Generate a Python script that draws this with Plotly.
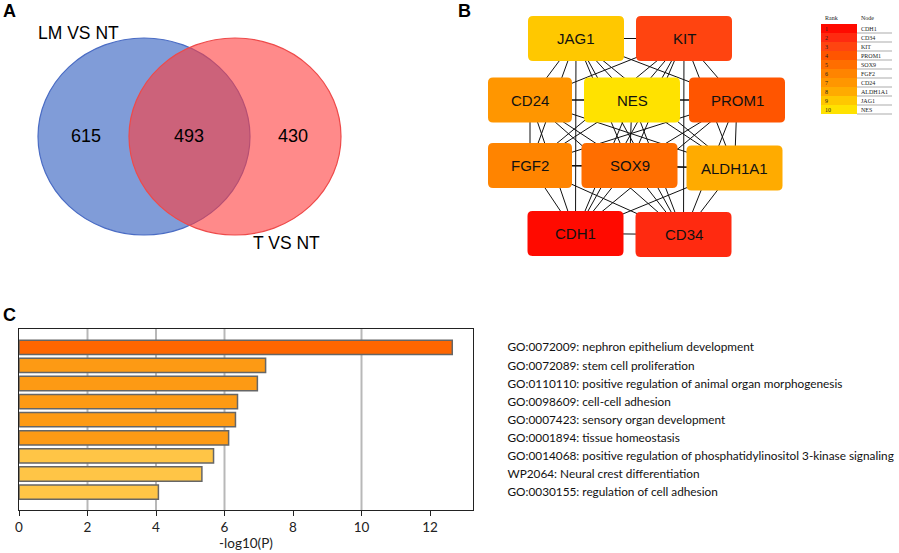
import itertools
import plotly.graph_objects as go

W, H = 899, 553

# ---------------- Panel A: Venn ----------------
venn_sets = ["LM VS NT", "T VS NT"]
venn_counts = [615, 493, 430]  # only LM, shared, only T

# ---------------- Panel B: network ----------------
rank_nodes = ["CDH1", "CD34", "KIT", "PROM1", "SOX9", "FGF2", "CD24", "ALDH1A1", "JAG1", "NES"]
rank_numbers = list(range(1, 11))
rank_colors = ["#ff0a00", "#ff2a10", "#ff4410", "#ff5500", "#ff6e00",
               "#ff8400", "#ff9600", "#ffab00", "#ffc800", "#ffe200"]
table_header = ["Rank", "Node"]

# ---------------- Panel C: enrichment ----------------
terms = [
    "GO:0072009: nephron epithelium development",
    "GO:0072089: stem cell proliferation",
    "GO:0110110: positive regulation of animal organ morphogenesis",
    "GO:0098609: cell-cell adhesion",
    "GO:0007423: sensory organ development",
    "GO:0001894: tissue homeostasis",
    "GO:0014068: positive regulation of phosphatidylinositol 3-kinase signaling",
    "WP2064: Neural crest differentiation",
    "GO:0030155: regulation of cell adhesion",
]
neglogp = [12.65, 7.2, 6.96, 6.38, 6.32, 6.12, 5.68, 5.34, 4.07]
bar_colors = ["#ff6600"] + ["#fd9a14"] * 5 + ["#ffc546"] * 3
grid_lines = [2, 4, 6, 10]
x_ticks = [0, 2, 4, 6, 8, 10, 12]

# layout positions (pixels in the full-figure overlay axis)
node_pos = {
    "JAG1": (576, 38.5), "KIT": (684, 38.5),
    "CD24": (530, 100), "NES": (632, 100), "PROM1": (737, 100),
    "FGF2": (530, 165.5), "SOX9": (629.5, 165.5), "ALDH1A1": (734.5, 168),
    "CDH1": (575.5, 233.5), "CD34": (683.5, 234.5),
}
node_w = {"CD24": 84, "FGF2": 84}
NODE_W, NODE_H = 96, 45
TBL_X0, TBL_XM, TBL_X1, TBL_Y0, TBL_ROW = 821, 857, 892, 24, 9

fig = go.Figure()

# Panel C bars
fig.add_trace(go.Bar(
    x=neglogp, y=terms, orientation="h",
    marker=dict(color=bar_colors, line=dict(color="#666666", width=1.5)),
    xaxis="x", yaxis="y", showlegend=False, hoverinfo="skip",
))

# Network edges (complete graph among hub genes)
ex, ey = [], []
for a, b in itertools.combinations(rank_nodes, 2):
    ex += [node_pos[a][0], node_pos[b][0], None]
    ey += [node_pos[a][1], node_pos[b][1], None]
fig.add_trace(go.Scatter(x=ex, y=ey, mode="lines", line=dict(color="#111111", width=1),
                         xaxis="x2", yaxis="y2", showlegend=False, hoverinfo="skip"))

shapes = []
annotations = []

# Venn circles
shapes.append(dict(type="circle", xref="x2", yref="y2", x0=38, x1=250, y0=38, y1=235,
                   fillcolor="#809cd8", line=dict(color="#4a6cc4", width=1.2), layer="above"))
shapes.append(dict(type="circle", xref="x2", yref="y2", x0=129, x1=341, y0=38, y1=235,
                   fillcolor="rgba(255,60,60,0.6)", line=dict(color="#ee4a4a", width=1.2), layer="above"))
for txt, (x, y) in zip(venn_sets, [(78, 33), (286, 243)]):
    annotations.append(dict(text=txt, x=x, y=y, xref="x2", yref="y2", showarrow=False,
                            font=dict(family="Liberation Sans", size=17.5, color="black")))
for val, x in zip(venn_counts, [86, 189, 293]):
    annotations.append(dict(text=str(val), x=x, y=136, xref="x2", yref="y2", showarrow=False,
                            font=dict(family="Liberation Sans", size=18, color="black")))


def rounded_rect(cx, cy, w, h, r=5):
    x0, x1, y0, y1 = cx - w / 2, cx + w / 2, cy - h / 2, cy + h / 2
    return (f"M {x0+r},{y0} L {x1-r},{y0} Q {x1},{y0} {x1},{y0+r} L {x1},{y1-r} "
            f"Q {x1},{y1} {x1-r},{y1} L {x0+r},{y1} Q {x0},{y1} {x0},{y1-r} "
            f"L {x0},{y0+r} Q {x0},{y0} {x0+r},{y0} Z")


for name, col in zip(rank_nodes, rank_colors):
    cx, cy = node_pos[name]
    w = node_w.get(name, NODE_W)
    shapes.append(dict(type="path", xref="x2", yref="y2", path=rounded_rect(cx, cy, w, NODE_H),
                       fillcolor=col, line=dict(width=0), layer="above"))
    annotations.append(dict(text=name, x=cx, y=cy, xref="x2", yref="y2", showarrow=False,
                            font=dict(family="Liberation Sans", size=15, color="#111111")))

# Rank table (drawn as cells)
tfont = dict(family="Liberation Serif", size=6, color="#222")
for txt, x in zip(table_header, [TBL_X0 + 2, TBL_XM + 2]):
    annotations.append(dict(text=txt, x=x, y=TBL_Y0 - 6, xref="x2", yref="y2", showarrow=False,
                            xanchor="left", font=tfont))
for i, (rk, nd, col) in enumerate(zip(rank_numbers, rank_nodes, rank_colors)):
    y0 = TBL_Y0 + i * TBL_ROW
    shapes.append(dict(type="rect", xref="x2", yref="y2", x0=TBL_X0, x1=TBL_XM, y0=y0, y1=y0 + TBL_ROW,
                       fillcolor=col, line=dict(width=0), layer="above"))
    shapes.append(dict(type="line", xref="x2", yref="y2", x0=TBL_XM, x1=TBL_X1,
                       y0=y0 + TBL_ROW, y1=y0 + TBL_ROW, line=dict(color="#888888", width=0.7),
                       layer="above"))
    annotations.append(dict(text=str(rk), x=TBL_X0 + 1.5, y=y0 + TBL_ROW / 2, xref="x2", yref="y2",
                            showarrow=False, xanchor="left", font=tfont))
    annotations.append(dict(text=nd, x=TBL_XM + 1.5, y=y0 + TBL_ROW / 2, xref="x2", yref="y2",
                            showarrow=False, xanchor="left", font=tfont))

# Panel C grid lines
for g in grid_lines:
    shapes.append(dict(type="line", xref="x", yref="y domain", x0=g, x1=g, y0=0, y1=1,
                       line=dict(color="#b8b8b8", width=2), layer="below"))

# Panel letters
for txt, x, y in [("A", 9, 11), ("B", 464.5, 10.5), ("C", 9, 315)]:
    annotations.append(dict(text=f"<b>{txt}</b>", x=x, y=y, xref="x2", yref="y2", showarrow=False,
                            font=dict(family="Liberation Sans", size=18, color="black")))

fig.update_layout(
    width=W, height=H, margin=dict(l=0, r=0, t=0, b=0, autoexpand=False),
    paper_bgcolor="white", plot_bgcolor="rgba(0,0,0,0)",
    bargap=0.21, showlegend=False,
    shapes=shapes, annotations=annotations,
    xaxis=dict(domain=[19 / W, 473 / W], range=[0, 454 / 34.25], anchor="y", automargin=False,
               showgrid=False, zeroline=False, showline=True, mirror=True,
               linecolor="#222222", linewidth=1.2, ticks="outside", ticklen=5,
               tickcolor="#222222", tickvals=x_ticks,
               tickfont=dict(family="Lato", size=13.5, color="#222"),
               title=dict(text="-log10(P)", standoff=4,
                          font=dict(family="Lato", size=13.5, color="#222"))),
    yaxis=dict(domain=[1 - 510 / H, 1 - 329 / H], anchor="x", range=[8.99, -1.01], automargin=False,
               side="right", showgrid=False, zeroline=False, showline=True, mirror=True,
               linecolor="#222222", linewidth=1.2, ticks="", ticklabelstandoff=31,
               tickfont=dict(family="Lato", size=11.8, color="#111")),
    xaxis2=dict(domain=[0, 1], range=[0, W], anchor="y2", visible=False, automargin=False),
    yaxis2=dict(domain=[0, 1], range=[H, 0], anchor="x2", visible=False, automargin=False),
)

fig.write_html("out.html", config={"displayModeBar": False},
               post_script="document.body.style.margin='0';")
